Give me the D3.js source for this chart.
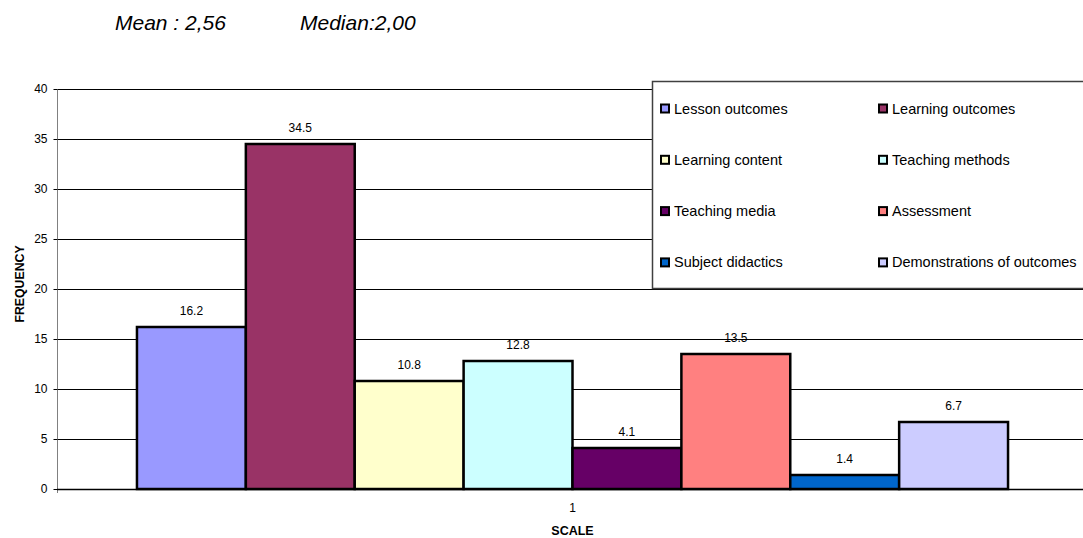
<!DOCTYPE html>
<html><head><meta charset="utf-8">
<script src="https://cdn.jsdelivr.net/npm/d3@7"></script>
<style>body{margin:0;background:#fff}svg{display:block;font-family:"Liberation Sans",Arial,sans-serif}</style>
</head><body><svg id="c" width="1083" height="538"></svg>
<script>
const categories = ["1"];
const seriesNames = ["Lesson outcomes","Learning outcomes","Learning content","Teaching methods","Teaching media","Assessment","Subject didactics","Demonstrations of outcomes"];
const seriesValues = [16.2, 34.5, 10.8, 12.8, 4.1, 13.5, 1.4, 6.7];
const seriesColors = ["#9999FF","#993366","#FFFFCC","#CCFFFF","#660066","#FF8080","#0066CC","#CCCCFF"];
const yTicks = [0,5,10,15,20,25,30,35,40];
const titleTexts = ["Mean : 2,56","Median:2,00"];

const svg = d3.select("#c");
const L = 57, R = 1088, T = 89, B = 489;
const y = d3.scaleLinear().domain([0,40]).range([B,T]);
const x0 = d3.scaleBand().domain(categories).range([L,R]).paddingInner(0).paddingOuter(0.0918);
const x1 = d3.scaleBand().domain(seriesNames).range([0,x0.bandwidth()]).padding(0);

// titles
svg.append("text").attr("x",115).attr("y",30).attr("font-size",21).attr("font-style","italic").text(titleTexts[0]);
svg.append("text").attr("x",300).attr("y",30).attr("font-size",21).attr("font-style","italic").text(titleTexts[1]);

// gridlines
svg.append("g").selectAll("line").data(yTicks.filter(d=>d>0)).join("line")
  .attr("x1",L).attr("x2",1083).attr("y1",d=>Math.round(y(d))+0.5).attr("y2",d=>Math.round(y(d))+0.5)
  .attr("stroke","#000").attr("stroke-width",1);

// y axis
const yAxis = d3.axisLeft(y).tickValues(yTicks).tickSize(4).tickPadding(6);
const ga = svg.append("g").attr("transform",`translate(${L+0.5},0)`).call(yAxis);
ga.select(".domain").attr("stroke","#808080").attr("d",`M0,${T}V${B+4}`);
ga.selectAll(".tick line").attr("stroke","#000");
ga.selectAll(".tick text").attr("font-size",12).attr("font-family","Liberation Sans, Arial, sans-serif").attr("fill","#000");

// bars
const g = svg.append("g").attr("transform",`translate(${x0(categories[0])},0)`);
g.selectAll("rect").data(seriesValues).join("rect")
  .attr("x",(d,i)=>x1(seriesNames[i])).attr("width",x1.bandwidth())
  .attr("y",d=>y(d)).attr("height",d=>B-y(d))
  .attr("fill",(d,i)=>seriesColors[i]).attr("stroke","#000").attr("stroke-width",2.5);
g.selectAll("text").data(seriesValues).join("text")
  .attr("x",(d,i)=>x1(seriesNames[i])+x1.bandwidth()/2).attr("y",d=>y(d)-12)
  .attr("text-anchor","middle").attr("font-size",12).text(d=>d);

// x axis line
svg.append("line").attr("x1",L).attr("x2",1083).attr("y1",B+0.5).attr("y2",B+0.5).attr("stroke","#000").attr("stroke-width",1.5);
svg.append("text").attr("x",x0(categories[0])+x0.bandwidth()/2).attr("y",512).attr("text-anchor","middle").attr("font-size",12).text(categories[0]);
svg.append("text").attr("x",x0(categories[0])+x0.bandwidth()/2).attr("y",535).attr("text-anchor","middle").attr("font-size",12.5).attr("font-weight","bold").text("SCALE");
svg.append("text").attr("transform",`translate(24,${(T+B)/2 - 5}) rotate(-90)`).attr("text-anchor","middle").attr("font-size",12.3).attr("font-weight","bold").text("FREQUENCY");

// legend
svg.append("rect").attr("x",652.5).attr("y",81.5).attr("width",450).attr("height",207).attr("fill","#fff").attr("stroke","#404040").attr("stroke-width",1.5);
const lg = svg.append("g").selectAll("g").data(seriesNames).join("g")
  .attr("transform",(d,i)=>`translate(${i%2===0?661:879},${108.5+Math.floor(i/2)*51.3})`);
lg.append("rect").attr("x",0).attr("y",-4).attr("width",8).attr("height",8).attr("fill",(d,i)=>seriesColors[i]).attr("stroke","#000").attr("stroke-width",2);
lg.append("text").attr("x",13).attr("y",5).attr("font-size",14.5).text(d=>d);
</script></body></html>
